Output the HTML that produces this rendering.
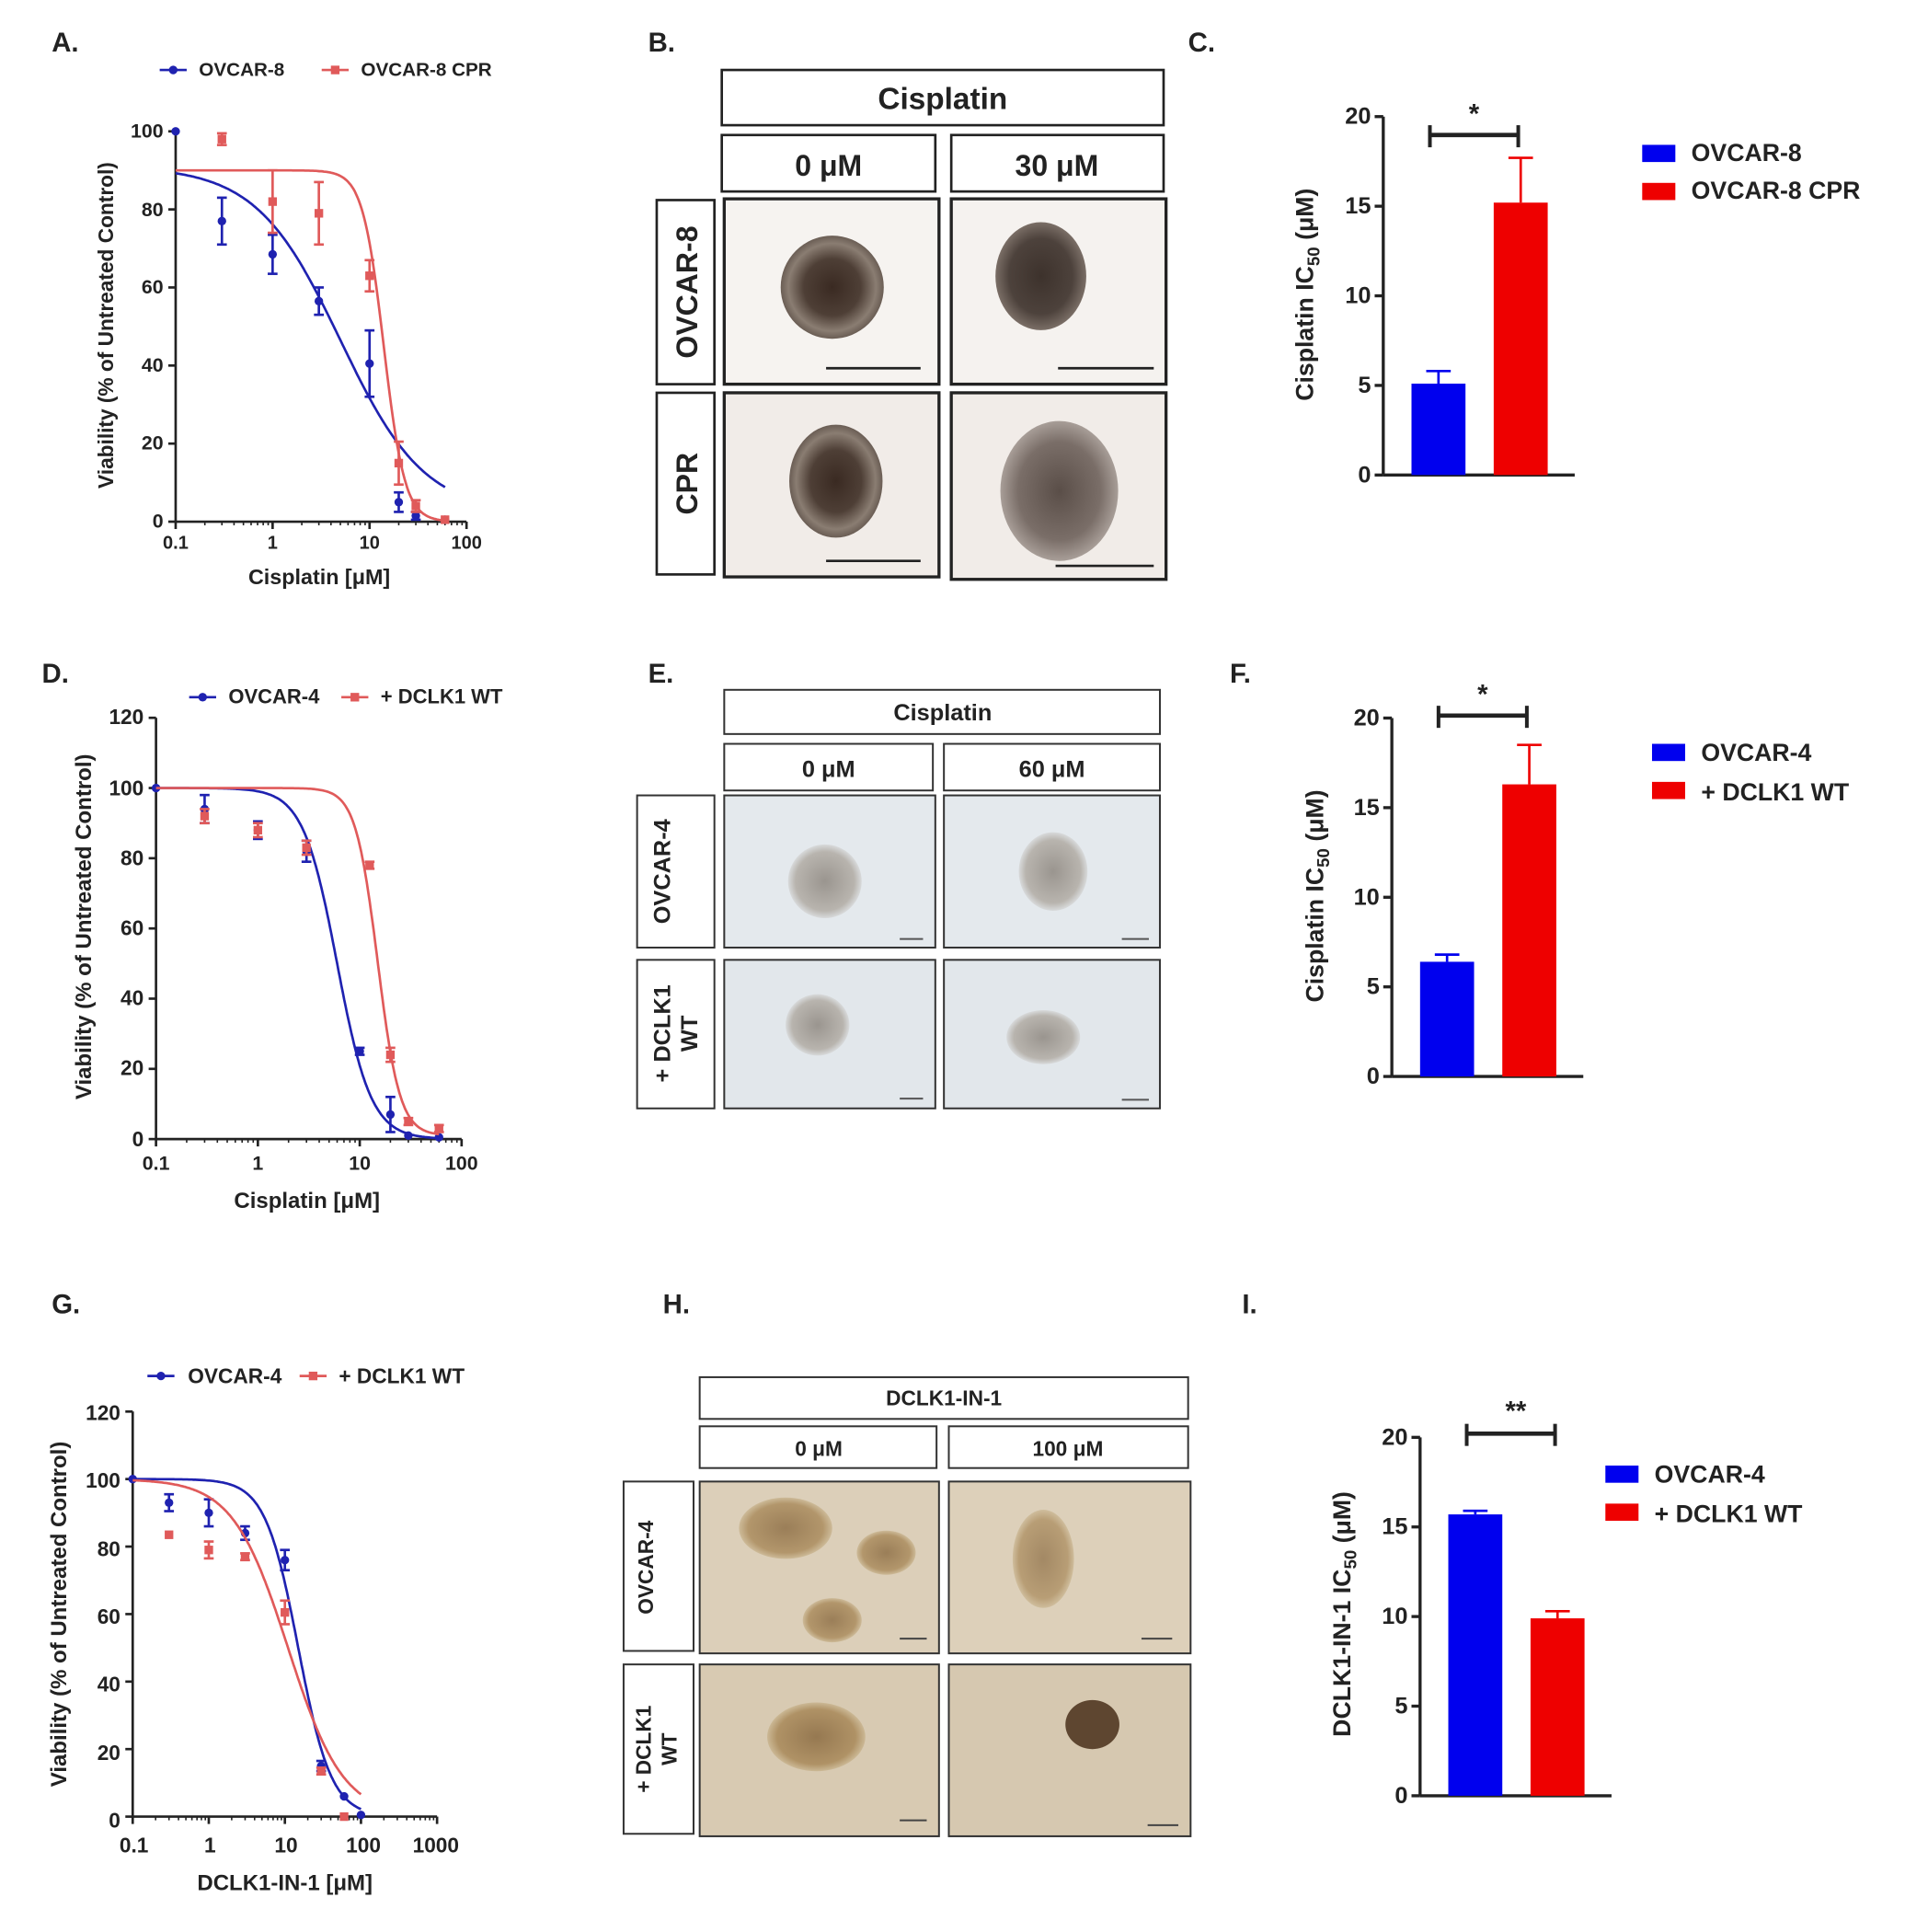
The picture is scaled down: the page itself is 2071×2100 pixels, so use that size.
<!DOCTYPE html>
<html><head><meta charset="utf-8"><style>
html,body{margin:0;padding:0;background:#fff;}
svg{display:block;}
text{font-family:"Liberation Sans",Arial,sans-serif;font-weight:bold;fill:#222;}
</style></head><body>
<svg id="s" width="2071" height="2100" viewBox="0 0 1552 1574" xmlns="http://www.w3.org/2000/svg">
<defs>
<radialGradient id="sph1"><stop offset="0" stop-color="#3a2a22"/><stop offset="0.55" stop-color="#4e3f36"/><stop offset="0.85" stop-color="#8a7d72"/><stop offset="1" stop-color="#6a5d54"/></radialGradient>
<radialGradient id="sph2"><stop offset="0" stop-color="#3d322c"/><stop offset="0.7" stop-color="#4d423c"/><stop offset="1" stop-color="#7a6e66"/></radialGradient>
<radialGradient id="sph3"><stop offset="0" stop-color="#5a4e48"/><stop offset="0.7" stop-color="#7a6e68"/><stop offset="1" stop-color="#a89e98"/></radialGradient>
<radialGradient id="clE"><stop offset="0" stop-color="#9a958f"/><stop offset="0.8" stop-color="#b8b4ae"/><stop offset="1" stop-color="#d8dadb"/></radialGradient>
<radialGradient id="clH"><stop offset="0" stop-color="#8a6a40"/><stop offset="0.8" stop-color="#a88858"/><stop offset="1" stop-color="#c9b590"/></radialGradient>
</defs>
<g id="plots"></g>

<text x="42" y="42" font-size="22">A.</text>
<text x="528" y="42" font-size="22">B.</text>
<text x="968" y="42" font-size="22">C.</text>
<text x="34" y="556" font-size="22">D.</text>
<text x="528" y="556" font-size="22">E.</text>
<text x="1002" y="556" font-size="22">F.</text>
<text x="42" y="1070" font-size="22">G.</text>
<text x="540" y="1070" font-size="22">H.</text>
<text x="1012" y="1070" font-size="22">I.</text>

<text x="162" y="62" font-size="15.5">OVCAR-8</text>
<text x="294" y="62" font-size="15.5">OVCAR-8 CPR</text>
<text x="133" y="112" font-size="16" text-anchor="end">100</text>
<text x="133" y="176" font-size="16" text-anchor="end">80</text>
<text x="133" y="239" font-size="16" text-anchor="end">60</text>
<text x="133" y="303" font-size="16" text-anchor="end">40</text>
<text x="133" y="366" font-size="16" text-anchor="end">20</text>
<text x="133" y="430" font-size="16" text-anchor="end">0</text>
<text x="143" y="447" font-size="15" text-anchor="middle">0.1</text>
<text x="222" y="447" font-size="15" text-anchor="middle">1</text>
<text x="301" y="447" font-size="15" text-anchor="middle">10</text>
<text x="380" y="447" font-size="15" text-anchor="middle">100</text>
<text x="260" y="476" font-size="17.5" text-anchor="middle">Cisplatin [μM]</text>
<text transform="translate(92,265) rotate(-90)" font-size="17" text-anchor="middle">Viability (% of Untreated Control)</text>

<text x="186" y="573" font-size="16.5">OVCAR-4</text>
<text x="310" y="573" font-size="16.5">+ DCLK1 WT</text>
<text x="117" y="590" font-size="17" text-anchor="end">120</text>
<text x="117" y="648" font-size="17" text-anchor="end">100</text>
<text x="117" y="705" font-size="17" text-anchor="end">80</text>
<text x="117" y="762" font-size="17" text-anchor="end">60</text>
<text x="117" y="819" font-size="17" text-anchor="end">40</text>
<text x="117" y="876" font-size="17" text-anchor="end">20</text>
<text x="117" y="934" font-size="17" text-anchor="end">0</text>
<text x="127" y="953" font-size="16" text-anchor="middle">0.1</text>
<text x="210" y="953" font-size="16" text-anchor="middle">1</text>
<text x="293" y="953" font-size="16" text-anchor="middle">10</text>
<text x="376" y="953" font-size="16" text-anchor="middle">100</text>
<text x="250" y="984" font-size="18" text-anchor="middle">Cisplatin  [μM]</text>
<text transform="translate(74,755) rotate(-90)" font-size="18" text-anchor="middle">Viability (% of Untreated Control)</text>

<text x="153" y="1127" font-size="17">OVCAR-4</text>
<text x="276" y="1127" font-size="17">+ DCLK1 WT</text>
<text x="98" y="1157" font-size="17" text-anchor="end">120</text>
<text x="98" y="1212" font-size="17" text-anchor="end">100</text>
<text x="98" y="1268" font-size="17" text-anchor="end">80</text>
<text x="98" y="1323" font-size="17" text-anchor="end">60</text>
<text x="98" y="1378" font-size="17" text-anchor="end">40</text>
<text x="98" y="1434" font-size="17" text-anchor="end">20</text>
<text x="98" y="1489" font-size="17" text-anchor="end">0</text>
<text x="109" y="1509" font-size="17" text-anchor="middle">0.1</text>
<text x="171" y="1509" font-size="17" text-anchor="middle">1</text>
<text x="233" y="1509" font-size="17" text-anchor="middle">10</text>
<text x="296" y="1509" font-size="17" text-anchor="middle">100</text>
<text x="355" y="1509" font-size="17" text-anchor="middle">1000</text>
<text x="232" y="1540" font-size="18" text-anchor="middle">DCLK1-IN-1 [μM]</text>
<text transform="translate(54,1315) rotate(-90)" font-size="18" text-anchor="middle">Viability (% of Untreated Control)</text>

<text x="1117" y="101" font-size="19" text-anchor="end">20</text>
<text x="1117" y="174" font-size="19" text-anchor="end">15</text>
<text x="1117" y="247" font-size="19" text-anchor="end">10</text>
<text x="1117" y="320" font-size="19" text-anchor="end">5</text>
<text x="1117" y="393" font-size="19" text-anchor="end">0</text>
<text x="1201" y="100" font-size="22" text-anchor="middle">*</text>
<text x="1378" y="131" font-size="20">OVCAR-8</text>
<text x="1378" y="162" font-size="20">OVCAR-8 CPR</text>
<text transform="translate(1070,240) rotate(-90)" font-size="20" text-anchor="middle">Cisplatin IC<tspan font-size="14" dy="5">50</tspan><tspan dy="-5"> (μM)</tspan></text>

<text x="1124" y="591" font-size="19" text-anchor="end">20</text>
<text x="1124" y="664" font-size="19" text-anchor="end">15</text>
<text x="1124" y="737" font-size="19" text-anchor="end">10</text>
<text x="1124" y="810" font-size="19" text-anchor="end">5</text>
<text x="1124" y="883" font-size="19" text-anchor="end">0</text>
<text x="1208" y="573" font-size="22" text-anchor="middle">*</text>
<text x="1386" y="620" font-size="20">OVCAR-4</text>
<text x="1386" y="652" font-size="20">+ DCLK1 WT</text>
<text transform="translate(1078,730) rotate(-90)" font-size="20" text-anchor="middle">Cisplatin IC<tspan font-size="14" dy="5">50</tspan><tspan dy="-5"> (μM)</tspan></text>

<text x="1147" y="1177" font-size="19" text-anchor="end">20</text>
<text x="1147" y="1250" font-size="19" text-anchor="end">15</text>
<text x="1147" y="1323" font-size="19" text-anchor="end">10</text>
<text x="1147" y="1396" font-size="19" text-anchor="end">5</text>
<text x="1147" y="1469" font-size="19" text-anchor="end">0</text>
<text x="1235" y="1157" font-size="22" text-anchor="middle">**</text>
<text x="1348" y="1208" font-size="20">OVCAR-4</text>
<text x="1348" y="1240" font-size="20">+ DCLK1 WT</text>
<text transform="translate(1100,1315) rotate(-90)" font-size="20" text-anchor="middle">DCLK1-IN-1 IC<tspan font-size="14" dy="5">50</tspan><tspan dy="-5"> (μM)</tspan></text>

<g fill="#fff" stroke="#222" stroke-width="2">
<rect x="588" y="57" width="360" height="45"/>
<rect x="588" y="110" width="174" height="46"/>
<rect x="775" y="110" width="173" height="46"/>
<rect x="535" y="163" width="47" height="150"/>
<rect x="535" y="320" width="47" height="148"/>
</g>
<g stroke="#222" stroke-width="2.5">
<rect x="590" y="162" width="175" height="151" fill="#f6f3f0"/>
<rect x="775" y="162" width="175" height="151" fill="#f5f2ef"/>
<rect x="590" y="320" width="175" height="150" fill="#f1ece8"/>
<rect x="775" y="320" width="175" height="152" fill="#f1ece8"/>
</g>
<text x="768" y="89" font-size="25" text-anchor="middle">Cisplatin</text>
<text x="675" y="143" font-size="24" text-anchor="middle">0 μM</text>
<text x="861" y="143" font-size="24" text-anchor="middle">30 μM</text>
<text transform="translate(568,238) rotate(-90)" font-size="24" text-anchor="middle">OVCAR-8</text>
<text transform="translate(568,394) rotate(-90)" font-size="24" text-anchor="middle">CPR</text>
<circle cx="678" cy="234" r="42" fill="url(#sph1)"/>
<ellipse cx="848" cy="225" rx="37" ry="44" fill="url(#sph2)"/>
<ellipse cx="681" cy="392" rx="38" ry="46" fill="url(#sph1)"/>
<ellipse cx="863" cy="400" rx="48" ry="57" fill="url(#sph3)"/>
<g stroke="#222" stroke-width="2">
<line x1="673" y1="300" x2="750" y2="300"/><line x1="862" y1="300" x2="940" y2="300"/>
<line x1="673" y1="457" x2="750" y2="457"/><line x1="860" y1="461" x2="940" y2="461"/>
</g>

<g fill="#fff" stroke="#333" stroke-width="1.5">
<rect x="590" y="562" width="355" height="36"/>
<rect x="590" y="606" width="170" height="38"/>
<rect x="769" y="606" width="176" height="38"/>
<rect x="519" y="648" width="63" height="124"/>
<rect x="519" y="782" width="63" height="121"/>
</g>
<g stroke="#333" stroke-width="1.5">
<rect x="590" y="648" width="172" height="124" fill="#e4e9ed"/>
<rect x="769" y="648" width="176" height="124" fill="#e4e9ed"/>
<rect x="590" y="782" width="172" height="121" fill="#e2e7eb"/>
<rect x="769" y="782" width="176" height="121" fill="#e2e7eb"/>
</g>
<text x="768" y="587" font-size="19" text-anchor="middle">Cisplatin</text>
<text x="675" y="633" font-size="19" text-anchor="middle">0 μM</text>
<text x="857" y="633" font-size="19" text-anchor="middle">60 μM</text>
<text transform="translate(546,710) rotate(-90)" font-size="19" text-anchor="middle">OVCAR-4</text>
<text transform="translate(546,842) rotate(-90)" font-size="19" text-anchor="middle">+ DCLK1</text>
<text transform="translate(568,842) rotate(-90)" font-size="19" text-anchor="middle">WT</text>
<ellipse cx="672" cy="718" rx="30" ry="30" fill="url(#clE)"/>
<ellipse cx="858" cy="710" rx="28" ry="32" fill="url(#clE)"/>
<ellipse cx="666" cy="835" rx="26" ry="25" fill="url(#clE)"/>
<ellipse cx="850" cy="845" rx="30" ry="22" fill="url(#clE)"/>
<g stroke="#555" stroke-width="1.5">
<line x1="733" y1="765" x2="752" y2="765"/><line x1="914" y1="765" x2="936" y2="765"/>
<line x1="733" y1="895" x2="752" y2="895"/><line x1="914" y1="896" x2="936" y2="896"/>
</g>

<g fill="#fff" stroke="#333" stroke-width="1.5">
<rect x="570" y="1122" width="398" height="34"/>
<rect x="570" y="1162" width="193" height="34"/>
<rect x="773" y="1162" width="195" height="34"/>
<rect x="508" y="1207" width="57" height="138"/>
<rect x="508" y="1356" width="57" height="138"/>
</g>
<g stroke="#333" stroke-width="1.5">
<rect x="570" y="1207" width="195" height="140" fill="#dccfb9"/>
<rect x="773" y="1207" width="197" height="140" fill="#ddd0ba"/>
<rect x="570" y="1356" width="195" height="140" fill="#d8cab2"/>
<rect x="773" y="1356" width="197" height="140" fill="#d6c8b0"/>
</g>
<text x="769" y="1145" font-size="17" text-anchor="middle">DCLK1-IN-1</text>
<text x="667" y="1186" font-size="17" text-anchor="middle">0 μM</text>
<text x="870" y="1186" font-size="17" text-anchor="middle">100 μM</text>
<text transform="translate(532,1277) rotate(-90)" font-size="17" text-anchor="middle">OVCAR-4</text>
<text transform="translate(530,1425) rotate(-90)" font-size="17" text-anchor="middle">+ DCLK1</text>
<text transform="translate(551,1425) rotate(-90)" font-size="17" text-anchor="middle">WT</text>
<ellipse cx="640" cy="1245" rx="38" ry="25" fill="url(#clH)" opacity="0.8"/>
<ellipse cx="722" cy="1265" rx="24" ry="18" fill="url(#clH)" opacity="0.8"/>
<ellipse cx="678" cy="1320" rx="24" ry="18" fill="url(#clH)" opacity="0.8"/>
<ellipse cx="850" cy="1270" rx="25" ry="40" fill="url(#clH)" opacity="0.7"/>
<ellipse cx="665" cy="1415" rx="40" ry="28" fill="url(#clH)" opacity="0.85"/>
<ellipse cx="890" cy="1405" rx="22" ry="20" fill="#5e4630"/>
<g stroke="#444" stroke-width="1.5">
<line x1="733" y1="1335" x2="755" y2="1335"/><line x1="930" y1="1335" x2="955" y2="1335"/>
<line x1="733" y1="1483" x2="755" y2="1483"/><line x1="935" y1="1487" x2="960" y2="1487"/>
</g>
</svg>
<script>
(function(){
var g=document.getElementById('plots'),NS='http://www.w3.org/2000/svg';
function el(t,a){var e=document.createElementNS(NS,t);for(var k in a)e.setAttribute(k,a[k]);g.appendChild(e);return e;}
function line(x1,y1,x2,y2,c,w){el('line',{x1:x1,y1:y1,x2:x2,y2:y2,stroke:c,'stroke-width':w||2});}
var BL='#1f22b0',RD='#e05a5a';
function curve(P){
 function X(v){return P.x0+(Math.log10(v)+1)*P.dec;}
 function Y(v){return P.y0-v*P.ppu;}
 line(P.x0,Y(P.ymax),P.x0,P.y0,'#222',2);
 line(P.x0,P.y0,X(P.xmax),P.y0,'#222',2);
 for(var v=0;v<=P.ymax;v+=20)line(P.x0-6,Y(v),P.x0,Y(v),'#222',2);
 for(var d=-1;d<=Math.log10(P.xmax);d++){
  line(X(Math.pow(10,d)),P.y0,X(Math.pow(10,d)),P.y0+6,'#222',2);
  if(Math.pow(10,d)<P.xmax)for(var m=2;m<10;m++){var xx=X(m*Math.pow(10,d));line(xx,P.y0,xx,P.y0+3,'#222',1.2);}
 }
 P.series.forEach(function(s){
  var d='';for(var i=0;i<=200;i++){var lv=-1+i*(Math.log10(s.end)+1)/200,v=Math.pow(10,lv);
   var y=s.bot+(s.top-s.bot)/(1+Math.pow(v/s.ic,s.h));d+=(i?'L':'M')+X(v).toFixed(1)+','+Y(y).toFixed(1);}
  el('path',{d:d,fill:'none',stroke:s.c,'stroke-width':2});
  s.pts.forEach(function(p){var x=X(p[0]),y=Y(p[1]);
   if(p[2]){line(x,Y(p[1]+p[2]),x,Y(p[1]-p[2]),s.c,2);line(x-4,Y(p[1]+p[2]),x+4,Y(p[1]+p[2]),s.c,2);line(x-4,Y(p[1]-p[2]),x+4,Y(p[1]-p[2]),s.c,2);}
   if(s.sq)el('rect',{x:x-3.5,y:y-3.5,width:7,height:7,fill:s.c});else el('circle',{cx:x,cy:y,r:3.5,fill:s.c});});
 });
 P.leg.forEach(function(l){line(l[0],l[1],l[0]+22,l[1],l[2],2);
  if(l[3])el('rect',{x:l[0]+7.5,y:l[1]-3.5,width:7,height:7,fill:l[2]});else el('circle',{cx:l[0]+11,cy:l[1],r:3.5,fill:l[2]});});
}
curve({x0:143,dec:79,y0:425,ppu:3.18,ymax:100,xmax:100,
 series:[{c:BL,top:91,bot:2,ic:5,h:1,end:60,pts:[[0.1,100,0],[0.3,77,6],[1,68.5,5],[3,56.5,3.5],[10,40.5,8.5],[20,5,2.5],[30,1.5,1],[60,0.5,0]]},
  {c:RD,sq:1,top:90,bot:0,ic:14,h:4,end:60,pts:[[0.3,98,1.5],[1,82,8],[3,79,8],[10,63,4],[20,15,5.5],[30,4,1.5],[60,0.5,0]]}],
 leg:[[130,57,BL,0],[262,57,RD,1]]});
curve({x0:127,dec:83,y0:928,ppu:2.86,ymax:120,xmax:100,
 series:[{c:BL,top:100,bot:0,ic:6,h:2.6,end:60,pts:[[0.1,100,0],[0.3,94,4],[1,88,2.5],[3,82,3],[10,25,1],[20,7,5],[30,1,0],[60,0.5,0]]},
  {c:RD,sq:1,top:100,bot:1,ic:15,h:4,end:60,pts:[[0.3,92,2],[1,88,2],[3,83,2],[12.5,78,1],[20,24,2],[30,5,1],[60,3,1]]}],
 leg:[[154,568,BL,0],[278,568,RD,1]]});
curve({x0:108,dec:62,y0:1480,ppu:2.75,ymax:120,xmax:1000,
 series:[{c:BL,top:100,bot:0,ic:15,h:2,end:100,pts:[[0.1,100,0],[0.3,93,2.5],[1,90,4],[3,84,2],[10,76,3],[30,15,1.5],[60,6,0],[100,0.5,0]]},
  {c:RD,sq:1,top:100,bot:0,ic:11,h:1.2,end:100,pts:[[0.3,83.5,0],[1,79,2.5],[3,77,1],[10,60.5,3.5],[30,13.5,1],[60,0,0]]}],
 leg:[[120,1121,BL,0],[244,1121,RD,1]]});
function bars(P){
 function Y(v){return P.y0-v*14.6;}
 line(P.ax,Y(20),P.ax,P.y0,'#222',2.5);line(P.ax,P.y0,P.ax+156,P.y0,'#222',2.5);
 for(var v=0;v<=20;v+=5)line(P.ax-7,Y(v),P.ax,Y(v),'#222',2.5);
 P.b.forEach(function(b){
  line(b[0]+22,Y(b[2]),b[0]+22,Y(b[1]),b[3],2);line(b[0]+12,Y(b[2]),b[0]+32,Y(b[2]),b[3],2);
  el('rect',{x:b[0],y:Y(b[1]),width:44,height:b[1]*14.6,fill:b[3]});});
 var by=P.br;line(P.b[0][0]+15,by,P.b[1][0]+20,by,'#222',3.5);
 line(P.b[0][0]+15,by-8,P.b[0][0]+15,by+10,'#222',3);line(P.b[1][0]+20,by-8,P.b[1][0]+20,by+10,'#222',3);
 el('rect',{x:P.lx,y:P.ly,width:27,height:14,fill:'#0000ee'});
 el('rect',{x:P.lx,y:P.ly+31,width:27,height:14,fill:'#ee0000'});
}
bars({ax:1127,y0:387,b:[[1150,5.1,5.8,'#0000ee'],[1217,15.2,17.7,'#ee0000']],br:110,lx:1338,ly:118});
bars({ax:1134,y0:877,b:[[1157,6.4,6.8,'#0000ee'],[1224,16.3,18.5,'#ee0000']],br:583,lx:1346,ly:606});
bars({ax:1157,y0:1463,b:[[1180,15.7,15.9,'#0000ee'],[1247,9.9,10.3,'#ee0000']],br:1168,lx:1308,ly:1194});
})();
</script>
</body></html>
